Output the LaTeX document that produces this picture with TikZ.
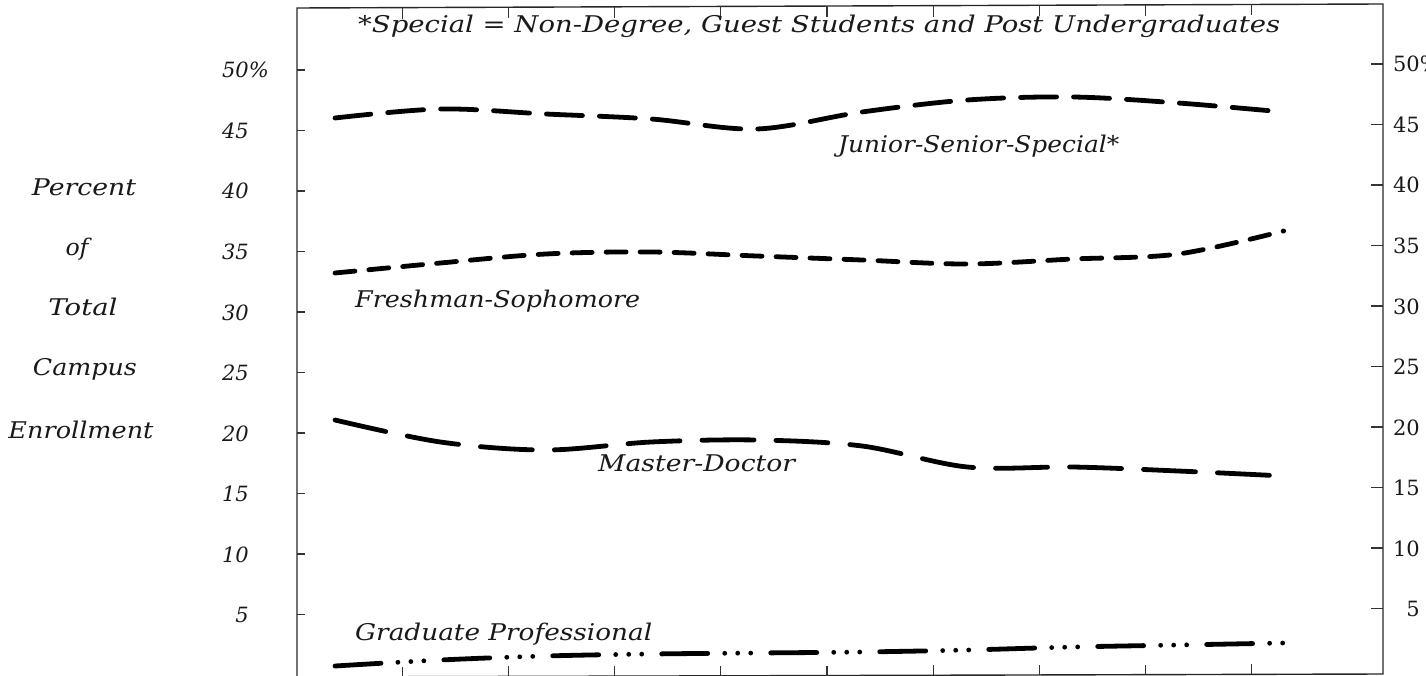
\documentclass[tikz,border=0pt]{standalone}
\usepackage{fontspec}
\usepackage{graphicx}
\newfontfamily\dvs{DejaVu Serif}
\newcommand\lab{\fontsize{23}{23}\selectfont\dvs\itshape}
\newcommand\numl{\fontsize{21}{21}\selectfont\dvs\itshape}
\newcommand\numr{\fontsize{21}{21}\selectfont\dvs}
\newcommand\fitw[2]{\resizebox{#1pt}{\height}{\lab #2}}
\tikzset{
  frame/.style={line width=1.4pt, black!85},
  tick/.style={line width=1.2pt, black!80},
  curve/.style={line width=4.8pt, black, line cap=round, smooth, tension=0.55},
  jss/.style={curve, dash pattern=on 36pt off 17pt},
  fsl/.style={curve, dash pattern=on 20pt off 14pt},
  mdl/.style={curve, dash pattern=on 52pt off 22pt},
  gpl/.style={curve, dash pattern=on 46pt off 17pt on 0pt off 13pt on 0pt off 13pt on 0pt off 20pt},
  txt/.style={inner sep=0pt, text=black!90}
}
\begin{document}
\begin{tikzpicture}[x=1pt,y=-1pt]
\useasboundingbox (0,0) rectangle (1426,676);
% frame
\coordinate (tl) at (297,8);
\coordinate (tr) at (1383,4);
\coordinate (br) at (1383,674);
\coordinate (bl) at (297,677);
\draw[frame] (tl) -- (tr) -- (br) -- (bl) -- cycle;
% top and bottom ticks
\foreach \i in {1,...,9} {
  \draw[tick] (296+106.2*\i,{8-0.0037*106.2*\i}) -- ++(0,11);
  \draw[tick] (296+106.2*\i,{677-0.0028*106.2*\i}) -- ++(0,-10);
}
% left and right ticks + labels
\foreach \v in {5,10,...,45} {
  \draw[tick] (297,675-12.1*\v) -- ++(8,0);
  \draw[tick] (1383,669-12.1*\v) -- ++(-12,0);
  \node[txt, anchor=base east] at (249,683-12.1*\v) {\numl \v};
  \node[txt, anchor=base east] at (1420,677-12.1*\v) {\numr \v};
}
\draw[tick] (297,70) -- ++(8,0);
\draw[tick] (1383,64) -- ++(-12,0);
\node[txt, anchor=base east] (l50) at (249,78) {\numl 50\rlap{\%}};
\node[txt, anchor=base east] (r50) at (1420,72) {\numr 50\rlap{\%}};
% axis title
\node[txt, anchor=base] (t1) at (84,196) {\fitw{104}{Percent}};
\node[txt, anchor=base] (t2) at (77,255) {\fitw{23}{of}};
\node[txt, anchor=base] (t3) at (83,315) {\fitw{69}{Total}};
\node[txt, anchor=base] (t4) at (85,375) {\fitw{104}{Campus}};
\node[txt, anchor=base] (t5) at (81,438) {\fitw{145}{Enrollment}};
% note
\node[txt, anchor=base west] (note) at (358,33) {\fitw{922}{*Special = Non-Degree, Guest Students and Post Undergraduates}};
% series labels
\node[txt, anchor=base west] (ljss) at (838,153) {\fitw{281}{Junior-Senior-Special*}};
\node[txt, anchor=base west] (lfs) at (355,307) {\fitw{285}{Freshman-Sophomore}};
\node[txt, anchor=base west] (lmd) at (598,471) {\fitw{197}{Master-Doctor}};
\node[txt, anchor=base west] (lgp) at (355,640) {\fitw{297}{Graduate Professional}};
% curves
\draw[jss] plot coordinates {(335,118) (440.4,109) (545.8,114) (651.2,119) (756.6,129) (862,112) (967.4,100) (1072.8,97) (1178.2,103) (1283.6,112)};
\draw[fsl] plot coordinates {(335,273) (440.4,263) (545.8,254) (651.2,252) (756.6,256) (862,260) (967.4,264) (1072.8,259) (1178.2,254) (1283.6,231)};
\draw[mdl] plot coordinates {(335,420) (440.4,442) (545.8,450) (651.2,442) (756.6,440) (862,446) (967.4,467) (1072.8,467) (1178.2,471) (1283.6,476)};
\draw[gpl] plot coordinates {(335,666) (440.4,660) (545.8,656) (651.2,654) (756.6,653) (862,652) (967.4,650) (1072.8,647) (1178.2,645) (1283.6,643)};
\end{tikzpicture}
\end{document}
